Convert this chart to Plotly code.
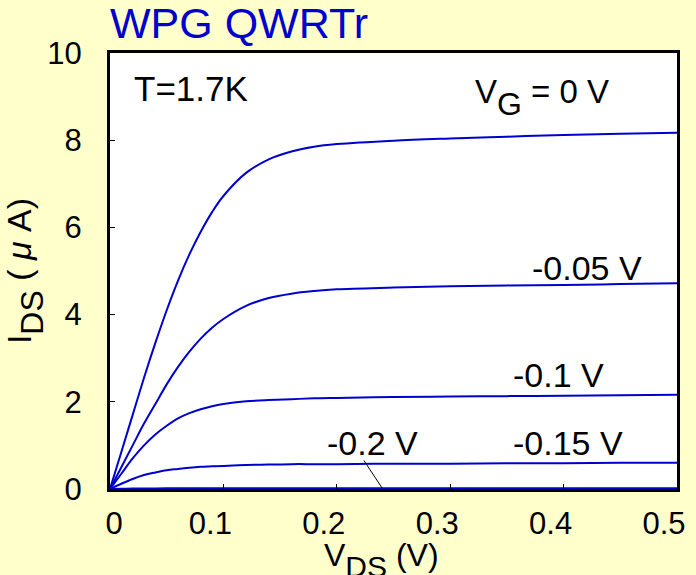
import plotly.graph_objects as go

# Drain voltage sweep (V)
vds = [0, 0.01, 0.02, 0.03, 0.04, 0.05, 0.06, 0.07, 0.08, 0.09, 0.10,
       0.12, 0.14, 0.16, 0.18, 0.20, 0.25, 0.30, 0.35, 0.40, 0.45, 0.50]

# Drain current (uA) for each gate voltage
ids_vg_0 = [0, 0.85, 1.70, 2.55, 3.35, 4.10, 4.78, 5.38, 5.90, 6.35, 6.72,
            7.25, 7.56, 7.74, 7.85, 7.91, 7.99, 8.04, 8.08, 8.12, 8.15, 8.17]
ids_vg_m005 = [0, 0.50, 1.00, 1.50, 1.95, 2.40, 2.80, 3.15, 3.45, 3.70, 3.90,
               4.20, 4.38, 4.48, 4.54, 4.58, 4.62, 4.65, 4.67, 4.68, 4.70, 4.72]
ids_vg_m01 = [0, 0.35, 0.70, 1.00, 1.25, 1.45, 1.62, 1.74, 1.83, 1.90, 1.95,
              2.01, 2.04, 2.06, 2.08, 2.09, 2.11, 2.12, 2.13, 2.14, 2.15, 2.16]
ids_vg_m015 = [0, 0.12, 0.23, 0.32, 0.38, 0.43, 0.46, 0.49, 0.51, 0.52, 0.53,
               0.55, 0.56, 0.57, 0.57, 0.57, 0.58, 0.58, 0.59, 0.59, 0.60, 0.60]
ids_vg_m02 = [0, 0.005, 0.01, 0.012, 0.014, 0.015, 0.016, 0.017, 0.018, 0.018, 0.019,
              0.019, 0.02, 0.02, 0.02, 0.02, 0.02, 0.02, 0.02, 0.02, 0.02, 0.02]

series = [ids_vg_0, ids_vg_m005, ids_vg_m01, ids_vg_m015, ids_vg_m02]

x_ticks = [0, 0.1, 0.2, 0.3, 0.4, 0.5]
x_tick_text = ["\u00a0\u00a0\u00a0\u00a00", "0.1", "0.2", "0.3", "0.4", "0.5"]
y_ticks = [0, 2, 4, 6, 8, 10]

FONT = "Liberation Sans, Arial, sans-serif"
BLUE = "#0000CC"

fig = go.Figure()
for ys in series:
    fig.add_trace(go.Scatter(x=vds, y=ys, mode="lines",
                             line=dict(color=BLUE, width=2, shape="spline"),
                             hoverinfo="skip", showlegend=False))


def big_sub(s, size):
    # near full-size subscript, lowered a little more than a plain <sub>
    return "<sub><sub><span style='font-size:%dpx'>%s</span></sub></sub>" % (size, s)


labels = [
    ("T=1.7K", 0.019, 9.18, "middle", 35),
    ("V" + big_sub("G", 32) + " = 0 V", 0.320, 9.58, "top", 33),
    ("-0.05 V", 0.370, 5.06, "middle", 34),
    ("-0.1 V", 0.354, 2.62, "middle", 34),
    ("-0.15 V", 0.354, 1.05, "middle", 34),
    ("-0.2 V", 0.190, 1.05, "middle", 34),
]
for txt, lx, ly, anchor, fsize in labels:
    fig.add_annotation(x=lx, y=ly, text=txt, showarrow=False,
                       xanchor="left", yanchor=anchor,
                       font=dict(family=FONT, size=fsize, color="black"))

# leader line to the -0.2 V curve
fig.add_annotation(x=0.240, y=ids_vg_m02[16], ax=0.223, ay=0.69,
                   axref="x", ayref="y", text="", showarrow=True,
                   arrowhead=0, arrowwidth=1, arrowcolor="black")

# x-axis title, set below the tick labels
fig.add_annotation(xref="paper", yref="paper", x=0.478, y=-0.106,
                   xanchor="center", yanchor="top", showarrow=False,
                   text="V" + big_sub("DS", 30) + " (V)",
                   font=dict(family=FONT, size=32, color="black"))

fig.update_layout(
    width=696, height=575,
    paper_bgcolor="#FFFFCC", plot_bgcolor="white",
    margin=dict(l=110, r=19, t=53, b=86),
    font=dict(family=FONT, color="black"),
    title=dict(text="WPG QWRTr", x=110 / 696, xanchor="left",
               y=1 - 23 / 575, yanchor="middle",
               font=dict(family=FONT, size=43, color=BLUE)),
)
fig.update_xaxes(range=[0, 0.5], tickvals=x_ticks, ticktext=x_tick_text,
                 ticks="inside", ticklen=5, tickwidth=1, tickcolor="black",
                 showline=True, linecolor="black", linewidth=3, mirror=True,
                 showgrid=False, zeroline=False, ticklabelshift=-13,
                 ticklabelstandoff=5, automargin=False,
                 tickfont=dict(family=FONT, size=31, color="black"))
fig.update_yaxes(range=[0, 10], tickvals=y_ticks,
                 ticks="inside", ticklen=5, tickwidth=1, tickcolor="black",
                 showline=True, linecolor="black", linewidth=3, mirror=True,
                 showgrid=False, zeroline=False, ticklabelstandoff=19,
                 automargin=False,
                 tickfont=dict(family=FONT, size=31, color="black"),
                 title=dict(text="I" + big_sub("DS", 32) + " ( <i>\u03bc</i> A)", standoff=6,
                            font=dict(family=FONT, size=34, color="black")))

fig.write_html("out.html")
